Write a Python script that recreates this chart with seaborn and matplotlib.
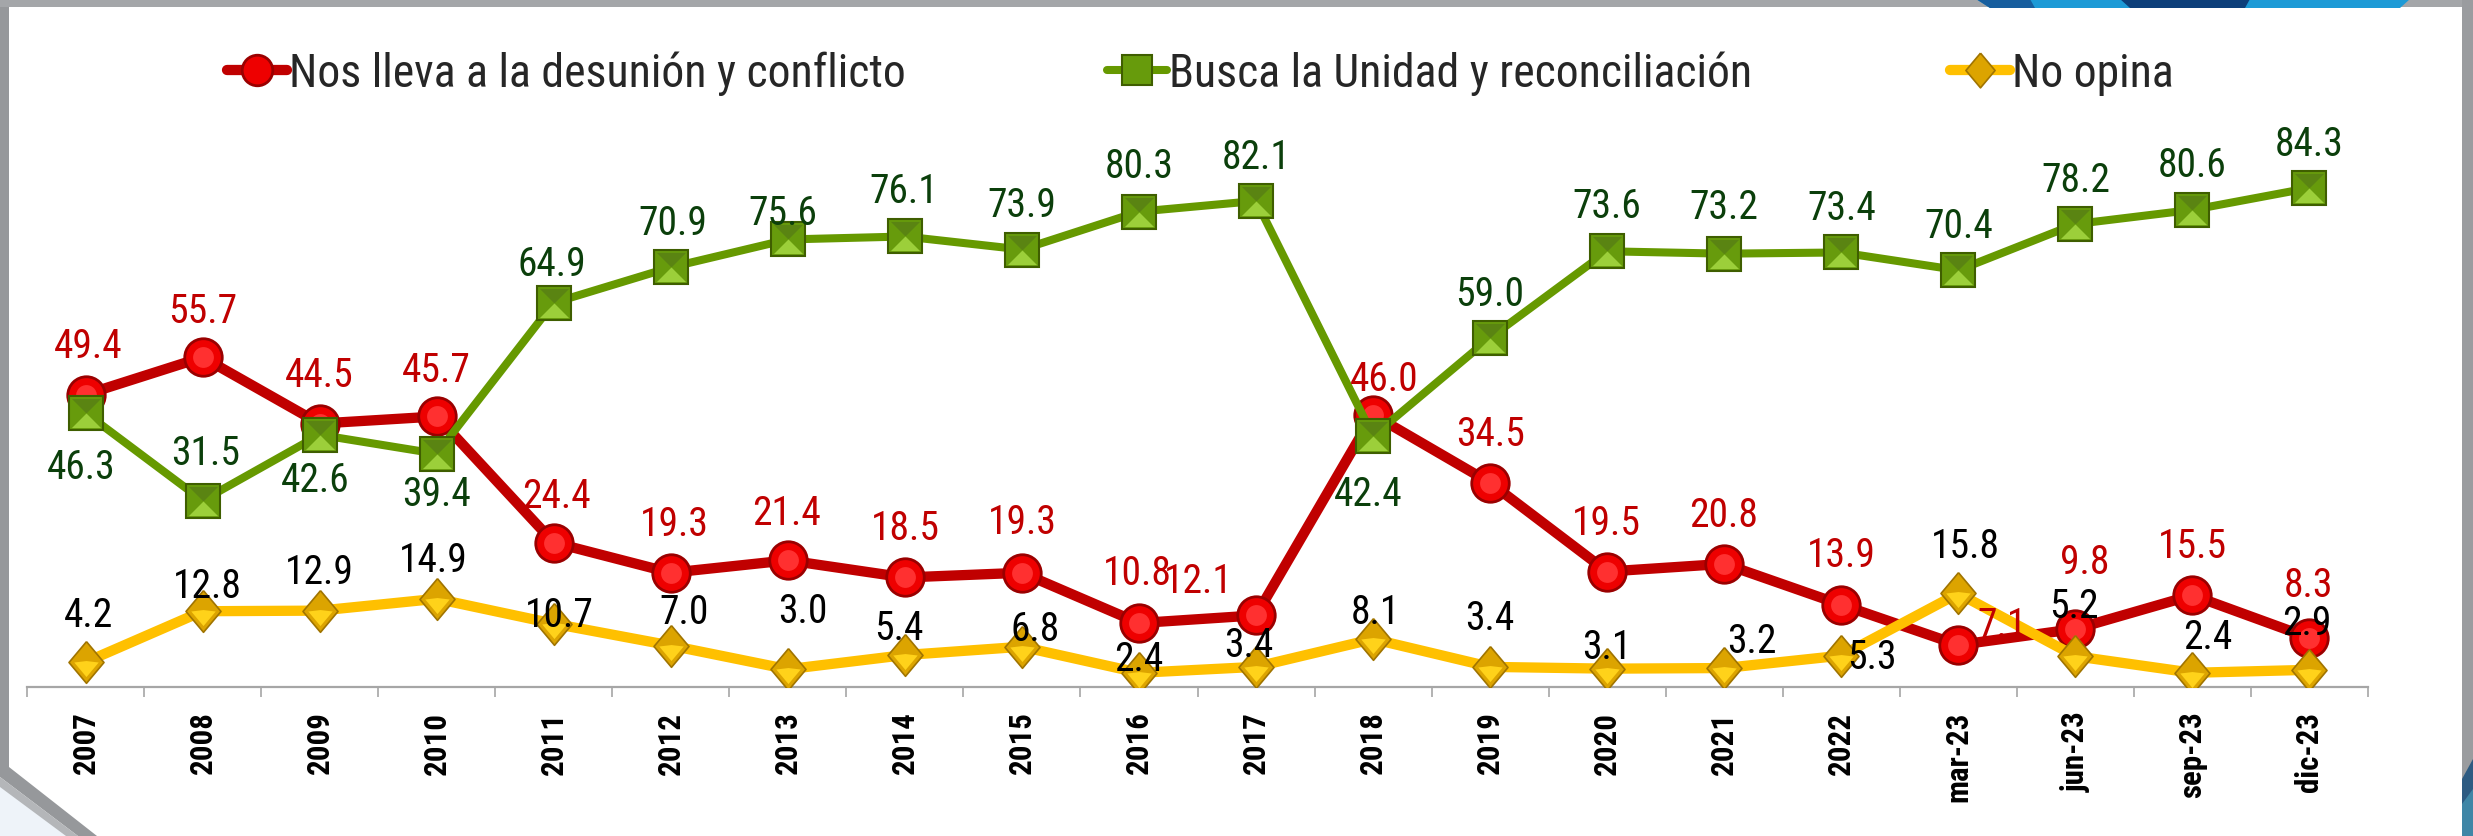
import os
import numpy as np
import pandas as pd
import matplotlib
matplotlib.use("Agg")
import matplotlib.pyplot as plt
import seaborn as sns
from matplotlib.patches import Polygon
from matplotlib.lines import Line2D
from matplotlib import font_manager as fm
from matplotlib.textpath import TextPath

# ---------------- data ----------------
categories = ["2007", "2008", "2009", "2010", "2011", "2012", "2013", "2014",
              "2015", "2016", "2017", "2018", "2019", "2020", "2021", "2022",
              "mar-23", "jun-23", "sep-23", "dic-23"]
conflicto = [49.4, 55.7, 44.5, 45.7, 24.4, 19.3, 21.4, 18.5, 19.3, 10.8,
             12.1, 46.0, 34.5, 19.5, 20.8, 13.9, 7.1, 9.8, 15.5, 8.3]
unidad = [46.3, 31.5, 42.6, 39.4, 64.9, 70.9, 75.6, 76.1, 73.9, 80.3,
          82.1, 42.4, 59.0, 73.6, 73.2, 73.4, 70.4, 78.2, 80.6, 84.3]
no_opina = [4.2, 12.8, 12.9, 14.9, 10.7, 7.0, 3.0, 5.4, 6.8, 2.4,
            3.4, 8.1, 3.4, 3.1, 3.2, 5.3, 15.8, 5.2, 2.4, 2.9]
series_names = ["Nos lleva a la desunión y conflicto",
                "Busca la Unidad y reconciliación",
                "No opina"]

# label offsets (pixels: dx right, dy up) relative to each point
off_conflicto = [(3, 52), (0, 50), (0, 52), (0, 50), (3, 50), (4, 52), (-1, 51),
                 (0, 53), (0, 54), (-2, 54), (-58, 38), (11, 39), (0, 52),
                 (-1, 52), (-1, 52), (0, 53), (44, 23), (9, 70), (0, 53), (-1, 56)]
off_unidad = [(-4, -51), (3, 51), (-4, -42), (0, -37), (-2, 42), (2, 48), (-5, 30),
              (-1, 49), (0, 48), (0, 49), (0, 47), (-5, -55), (0, 47), (0, 49),
              (0, 50), (0, 48), (0, 48), (0, 48), (0, 48), (0, 47)]
off_noopina = [(3, 51), (5, 29), (0, 42), (-3, 42), (6, 12), (13, 37), (15, 62),
               (-6, 30), (13, 21), (0, 17), (-7, 25), (2, 30), (0, 52), (0, 25),
               (28, 31), (31, 2), (7, 51), (-1, 54), (15, 39), (-3, 50)]

df = pd.DataFrame({"pos": np.arange(len(categories)), "categoria": categories,
                   "conflicto": conflicto, "unidad": unidad, "no_opina": no_opina})

# ---------------- fonts ----------------
sns.set_theme(style="white")
plt.rcParams["font.family"] = ["Liberation Sans", "DejaVu Sans"]

_files = [f.fname for f in fm.fontManager.ttflist]


def find_font(patterns, fallback_family, weight):
    for pat in patterns:
        for f in _files:
            if pat in os.path.basename(f).lower():
                return fm.FontProperties(fname=f)
    return fm.FontProperties(family=fallback_family, weight=weight)


fp_reg = find_font(["liberationsansnarrow-regular", "robotocondensed-regular",
                    "notosans-condensed.", "notosans-condensedregular",
                    "opensans-condensedregular", "opensans_condensed-regular",
                    "dejavusanscondensed.ttf"], ["Roboto", "Liberation Sans"], "normal")
fp_bold = find_font(["liberationsansnarrow-bold.", "robotocondensed-bold.",
                     "notosans-condensedbold.", "opensans-condensedbold",
                     "opensans_condensed-bold.", "dejavusanscondensed-bold."],
                    ["Roboto", "Liberation Sans"], "bold")


def ink(text, fp):
    e = TextPath((0, 0), text, size=100, prop=fp).get_extents()
    return e.width, e.height


def fit_size(text, capchar, fp, w_px, cap_px, hw=0.5):
    w, _ = ink(text, fp)
    _, hc = ink(capchar, fp)
    s_w = w_px * 72.0 / w
    s_h = cap_px * 72.0 / hc
    return float(s_w ** (1 - hw) * s_h ** hw), hc


LBL_SIZE, lbl_hc = fit_size("49.4", "0", fp_reg, 66, 29, hw=0.75)
LEG_SIZE, _ = fit_size(series_names[0], "N", fp_reg, 585, 34, hw=0.5)
TICK_SIZE, _ = fit_size("mar-23", "0", fp_bold, 82, 24, hw=0.5)

W, H = 2473, 837
PX = 72.0 / 100.0  # points per pixel at dpi 100

fig = plt.figure(figsize=(W / 100, H / 100), dpi=100, facecolor="white")


def P(x, y):
    return (x / W, 1 - y / H)


def poly(pts, color, z=0, alpha=1.0):
    fig.patches.append(Polygon([P(*p) for p in pts], closed=True, transform=fig.transFigure,
                               facecolor=color, edgecolor="none", zorder=z, alpha=alpha))


# frame decoration
poly([(0, 780), (75, 837), (0, 837)], "#eef3f9")
poly([(0, 0), (9, 0), (9, 768), (97, 837), (78, 837), (0, 778)], "#96989b")
poly([(0, 778), (78, 837), (66, 837), (0, 788)], "#b4b6b9")
poly([(0, 0), (W, 0), (W, 8), (0, 8)], "#a4a6a9")
poly([(2462, 0), (W, 0), (W, 780), (2462, 780)], "#9a9c9f")
poly([(2462, 780), (W, 760), (W, 837), (2462, 837)], "#2d5b82")
poly([(2462, 805), (W, 790), (W, 837), (2462, 837)], "#3f86a6")
poly([(1976, 0), (2410, 0), (2400, 9), (1990, 9)], "#1d9ad6")
poly([(2120, 0), (2250, 0), (2245, 9), (2130, 9)], "#0d3f7a")
poly([(1976, 0), (2030, 0), (2035, 9), (1990, 9)], "#175e9e")

ax = fig.add_axes([27 / W, (H - 688) / H, (2368 - 27) / W, (688 - 96) / H])
ax.set_facecolor("none")

RED, RED_T = "#c00000", "#c00000"
GREEN, GREEN_T = "#669900", "#0b3f0b"
YEL, YEL_T = "#ffc000", "#000000"

diamond = [(0, 0.5), (0.42, 0), (0, -0.5), (-0.42, 0), (0, 0.5)]
tri_bot = [(-0.5, -0.5), (0.5, -0.5), (0, 0), (-0.5, -0.5)]
tri_top = [(-0.5, 0.5), (0.5, 0.5), (0, 0), (-0.5, 0.5)]
dia_low = [(0, -0.5), (0.42, 0), (0, 0.05), (-0.42, 0), (0, -0.5)]

# series 1 : red
sns.lineplot(data=df, x="pos", y="conflicto", ax=ax, color=RED, lw=7.4, marker="o",
             markersize=27, markerfacecolor="#ee0000", markeredgecolor="#9a0000",
             markeredgewidth=2, zorder=3, legend=False)
ax.plot(df["pos"], df["conflicto"], ls="none", marker="o", ms=15, mfc="#ff3030",
        mec="none", zorder=3.1)

# series 2 : green
sns.lineplot(data=df, x="pos", y="unidad", ax=ax, color=GREEN, lw=5.8, marker="s",
             markersize=25, markerfacecolor="#679b0c", markeredgecolor="#3f5e00",
             markeredgewidth=1.5, zorder=4, legend=False)
ax.plot(df["pos"], df["unidad"], ls="none", marker=tri_top, ms=21, mfc="#5a8412",
        mec="none", zorder=4.1)
ax.plot(df["pos"], df["unidad"], ls="none", marker=tri_bot, ms=21, mfc="#9ccf3a",
        mec="none", zorder=4.1)

# series 3 : yellow
sns.lineplot(data=df, x="pos", y="no_opina", ax=ax, color=YEL, lw=7.4, marker=diamond,
             markersize=30, markerfacecolor="#dca400", markeredgecolor="#a07400",
             markeredgewidth=1.2, zorder=5, legend=False)
ax.plot(df["pos"], df["no_opina"], ls="none", marker=dia_low, ms=21, mfc="#ffd21a",
        mec="none", zorder=5.1)

# data labels
CAP = lbl_hc * LBL_SIZE / 72.0 / 2.0  # half cap height in px
for vals, offs, col in ((conflicto, off_conflicto, RED_T),
                        (unidad, off_unidad, GREEN_T),
                        (no_opina, off_noopina, YEL_T)):
    for i, (v, (dx, dy)) in enumerate(zip(vals, offs)):
        ax.annotate(f"{v:.1f}", xy=(i, v), xytext=(dx * PX, (dy - CAP) * PX),
                    textcoords="offset points", ha="center", va="baseline",
                    fontproperties=fp_reg, fontsize=LBL_SIZE, color=col, zorder=10)

# axes
ax.set_xlim(-0.5, len(categories) - 0.5)
ax.set_ylim(0, 100)
ax.set_yticks([])
ax.set_xlabel("")
ax.set_ylabel("")
for s in ("left", "right", "top"):
    ax.spines[s].set_visible(False)
ax.spines["bottom"].set_color("#a6a6a6")
ax.spines["bottom"].set_linewidth(1.6)
ax.set_xticks(np.arange(len(categories)))
ax.set_xticklabels(categories, rotation=90)
for t in ax.get_xticklabels():
    t.set_fontproperties(fp_bold)
    t.set_fontsize(TICK_SIZE)
    t.set_color("black")
ax.set_xticks(np.arange(-0.5, len(categories)), minor=True)
ax.tick_params(axis="x", which="major", length=0, pad=17)
ax.tick_params(axis="x", which="minor", length=7.2, width=1.2, color="#a6a6a6",
               direction="out", bottom=True)

# legend: one entry per legend so that each sits where the reference has it
handles = [
    Line2D([], [], color=RED, lw=7.4, marker="o", ms=22, mfc="#ee0000", mec="#9a0000", mew=2),
    Line2D([], [], color=GREEN, lw=5.8, marker="s", ms=21, mfc="#679b0c", mec="#3f5e00", mew=1.5),
    Line2D([], [], color=YEL, lw=7.4, marker=diamond, ms=25, mfc="#dca400", mec="#a07400", mew=1.2),
]
leg_x = [227, 1107, 1950]
leg_prop = fp_reg.copy()
leg_prop.set_size(LEG_SIZE)
em_px = LEG_SIZE * 100.0 / 72.0
for h, name, x0 in zip(handles, series_names, leg_x):
    fig.legend([h], [name], loc="center left", bbox_to_anchor=P(x0, 74),
               frameon=False, prop=leg_prop, handlelength=60.0 / em_px,
               handletextpad=0.05, borderpad=0, borderaxespad=0, numpoints=1)

fig.savefig("out.png", dpi=100, facecolor="white")
